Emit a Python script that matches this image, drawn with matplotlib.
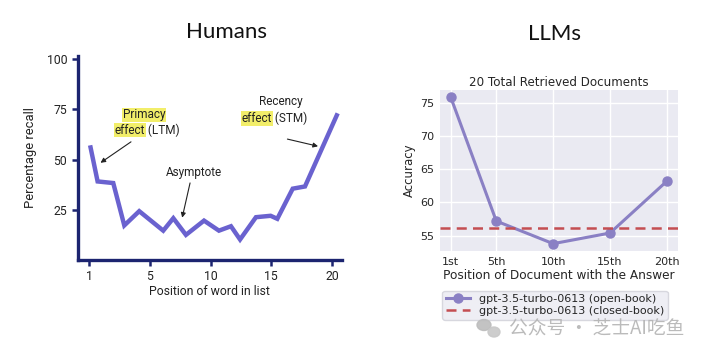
import matplotlib
matplotlib.use("Agg")
import matplotlib.pyplot as plt
from matplotlib.patches import Ellipse

# ---- Humans: serial position curve (x in axis units, tick "1" sits at 0) ----
word_pos = [0.1, 0.68, 1.97, 2.88, 4.11, 6.09, 6.92, 7.96, 9.45, 10.68,
            11.67, 12.42, 13.73, 14.94, 15.49, 16.76, 17.77, 20.39]
recall = [56, 39.1, 38.3, 17.2, 24.3, 14.6, 20.8, 12.5, 19.6, 14.6,
          16.8, 10.2, 21.3, 22.0, 20.5, 35.5, 36.6, 72]
human_xticks = [0, 5, 10, 15, 20]
human_xlabels = ["1", "5", "10", "15", "20"]
human_yticks = [25, 50, 75, 100]

# ---- LLMs: Lost-in-the-middle, 20 retrieved documents ----
doc_pos = [1, 5, 10, 15, 20]
doc_labels = ["1st", "5th", "10th", "15th", "20th"]
open_book = [75.8, 57.2, 53.8, 55.4, 63.2]
closed_book = 56.1

NAVY = "#1c2470"
HUMAN_LINE = "#6a62cf"
HILITE = "#f2ee6a"
HUM_FONT = ["Roboto", "DejaVu Sans"]

fig = plt.figure(figsize=(7.09, 3.56), dpi=100)

# ---------------- left panel ----------------
axL = fig.add_axes([0.1096, 0.2697, 0.3724, 0.5733])
axL.plot(word_pos, recall, color=HUMAN_LINE, lw=3.2, solid_joinstyle="miter")
axL.set_xlim(-0.96, 20.8)
axL.set_ylim(0, 101.6)
axL.set_xticks(human_xticks)
axL.set_xticklabels(human_xlabels)
axL.set_yticks(human_yticks)
for s in ["top", "right"]:
    axL.spines[s].set_visible(False)
for s in ["left", "bottom"]:
    axL.spines[s].set_color(NAVY)
    axL.spines[s].set_linewidth(2.4)
axL.tick_params(colors=NAVY, width=1.8, length=4, labelcolor="#222222",
                labelsize=8.8)
for lab in axL.get_xticklabels() + axL.get_yticklabels():
    lab.set_family(HUM_FONT)
axL.set_xlabel("Position of word in list", fontsize=8.8, family=HUM_FONT,
               color="#222222", labelpad=1)
axL.set_ylabel("Percentage recall", fontsize=9.4, family=HUM_FONT,
               color="#222222", labelpad=7)

hl = dict(facecolor=HILITE, edgecolor="none", pad=0.6)
tkw = dict(fontsize=8.5, family=HUM_FONT, color="#222222", va="center")
# primacy
axL.text(4.5, 72.2, "Primacy", ha="center", bbox=hl, **tkw)
axL.text(4.58, 64.7, "effect", ha="right", bbox=hl, **tkw)
axL.text(4.58, 64.7, " (LTM)", ha="left", **tkw)
axL.annotate("", xy=(0.73, 47.6), xytext=(3.62, 59.6),
             arrowprops=dict(arrowstyle="-|>", color="#222222", lw=0.8,
                             mutation_scale=7))
# recency
axL.text(15.75, 78.8, "Recency", ha="center", **tkw)
axL.text(15.03, 70.5, "effect", ha="right", bbox=hl, **tkw)
axL.text(15.03, 70.5, " (STM)", ha="left", **tkw)
axL.annotate("", xy=(19.07, 56.3), xytext=(16.1, 60.5),
             arrowprops=dict(arrowstyle="-|>", color="#222222", lw=0.8,
                             mutation_scale=7))
# asymptote
axL.text(8.65, 43.8, "Asymptote", ha="center", **tkw)
axL.annotate("", xy=(7.6, 19.7), xytext=(8.35, 39.7),
             arrowprops=dict(arrowstyle="-|>", color="#222222", lw=0.8,
                             mutation_scale=7))

# ---------------- right panel ----------------
axR = fig.add_axes([0.6206, 0.295, 0.3352, 0.452])
axR.set_facecolor("#eaeaf2")
axR.grid(True, color="white", lw=1.0)
axR.set_axisbelow(True)
for s in axR.spines.values():
    s.set_visible(False)
axR.plot(doc_pos, open_book, "-o", color="#8a80c4", lw=2.2, ms=6.5,
         label="gpt-3.5-turbo-0613 (open-book)")
axR.axhline(closed_book, color="#c44e52", ls="--", lw=1.8, dashes=(4, 2.5),
            label="gpt-3.5-turbo-0613 (closed-book)")
axR.set_xticks(doc_pos)
axR.set_xticklabels(doc_labels)
axR.set_yticks([55, 60, 65, 70, 75])
axR.tick_params(length=0, labelsize=8, labelcolor="#262626", pad=4)
axR.set_title("20 Total Retrieved Documents", fontsize=8.6, color="#262626",
              pad=3)
axR.set_xlabel("Position of Document with the Answer", fontsize=8.7,
               color="#262626", labelpad=2)
axR.set_ylabel("Accuracy", fontsize=8.5, color="#262626", labelpad=3)
leg = axR.legend(loc="upper center", bbox_to_anchor=(0.484, -0.247),
                 fontsize=8, frameon=True, facecolor="#eaeaf2",
                 edgecolor="#d0d0d8", handlelength=2.2, borderpad=0.3,
                 labelspacing=0.2, borderaxespad=0)
for t in leg.get_texts():
    t.set_color("#262626")

# ---------------- panel headings ----------------
fig.text(226 / 709, 1 - 32 / 356, "Humans", ha="center", va="center",
         fontsize=16, family=["Lato", "DejaVu Sans"], color="#111111")
fig.text(554 / 709, 1 - 34 / 356, "LLMs", ha="center", va="center",
         fontsize=16, family=["Lato", "DejaVu Sans"], color="#111111")

# watermark
fig.text(597 / 709, 1 - 329 / 356, "公众号 · 芝士AI吃鱼", ha="center",
         va="center", fontsize=13.5, color="#b4b4b4", alpha=0.9,
         family=["Noto Sans CJK SC", "DejaVu Sans"])
fig.patches.append(Ellipse((484 / 709, 1 - 325 / 356), 14 / 709, 11 / 356,
                           transform=fig.transFigure, color="#bdbdbd",
                           alpha=0.9))
fig.patches.append(Ellipse((494 / 709, 1 - 332 / 356), 12 / 709, 10 / 356,
                           transform=fig.transFigure, color="#c8c8c8",
                           alpha=0.9))

fig.savefig("out.png", dpi=100, facecolor="white")
